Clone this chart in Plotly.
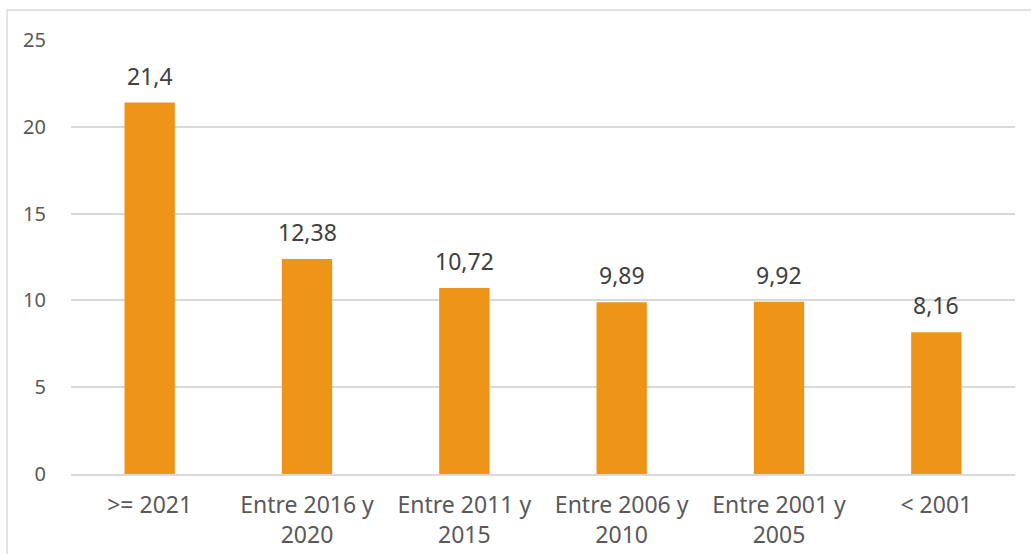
import plotly.graph_objects as go

categories = [">= 2021", "Entre 2016 y<br>2020", "Entre 2011 y<br>2015",
              "Entre 2006 y<br>2010", "Entre 2001 y<br>2005", "< 2001"]
values = [21.4, 12.38, 10.72, 9.89, 9.92, 8.16]
y_ticks = [0, 5, 10, 15, 20, 25]

bar_color = "#EE9416"
font_family = "Noto Sans, Open Sans, DejaVu Sans, sans-serif"

fig = go.Figure()
fig.add_trace(go.Bar(
    x=categories, y=values, marker=dict(color=bar_color, line=dict(width=0)),
    width=0.32, hoverinfo="skip",
))

for c, v in zip(categories, values):
    fig.add_annotation(
        x=c, y=v, xref="x", yref="y", text=f"{v:g}".replace(".", ","),
        showarrow=False, yanchor="bottom", yshift=9,
        font=dict(family=font_family, size=23, color="#404040"),
    )

W, H = 1032, 554
ml, mr, mt, mb = 71, 17, 40, 80
pw = W - ml - mr
ph = H - mt - mb
# frame lines (left and top), in paper coordinates
fx0 = (7 - ml) / pw
fx1 = (1031 - ml) / pw
fy_top = (H - mb - 10) / ph
fy_bot = (H - mb - 560) / ph
fig.add_shape(type="line", xref="paper", yref="paper", x0=fx0, x1=fx0,
              y0=fy_bot, y1=fy_top, line=dict(color="#D9D9D9", width=1.5))
fig.add_shape(type="line", xref="paper", yref="paper", x0=fx0, x1=fx1,
              y0=fy_top, y1=fy_top, line=dict(color="#D9D9D9", width=1.5))

fig.update_layout(
    width=W, height=H,
    margin=dict(l=ml, r=mr, t=mt, b=mb, autoexpand=False),
    plot_bgcolor="white", paper_bgcolor="white",
    showlegend=False,
    font=dict(family=font_family, size=23, color="#595959"),
    xaxis=dict(showgrid=False, showline=True, linecolor="#D9D9D9", linewidth=1.5,
               ticks="", tickfont=dict(size=23, color="#595959"),
               ticklabelstandoff=10, automargin=False, fixedrange=True),
    yaxis=dict(range=[0, 25], tickvals=y_ticks, showgrid=True, gridcolor="#D9D9D9",
               gridwidth=1.5, zeroline=False, showline=False, ticks="",
               tickfont=dict(size=20, color="#595959"), ticklabelstandoff=24,
               automargin=False, fixedrange=True),
    bargap=0.68,
)

fig.write_html("out.html", config={"displayModeBar": False},
               post_script="document.body.style.margin='0px';document.body.style.overflow='hidden';")
